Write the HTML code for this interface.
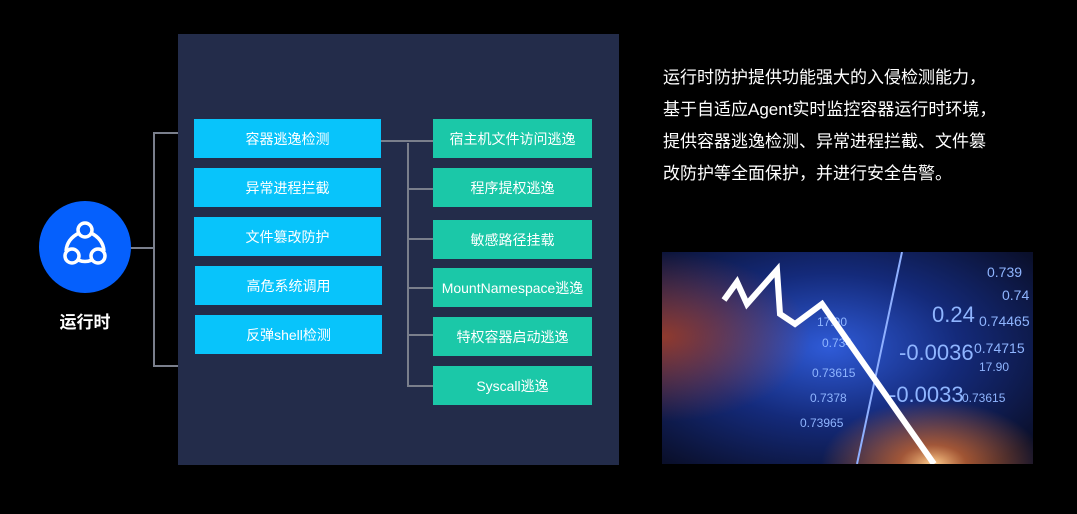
<!DOCTYPE html>
<html><head><meta charset="utf-8"><style>
body{margin:0;width:1077px;height:514px;background:#000;position:relative;overflow:hidden;font-family:"Liberation Sans","Noto Sans CJK SC",sans-serif;}
.a{position:absolute}
.panel{left:178px;top:34px;width:441px;height:431px;background:#232c4a}
.b{position:absolute;color:#fff;font-size:14px;display:flex;align-items:center;justify-content:center;white-space:nowrap}
.c{background:#08c4fb;width:187px;height:39px}
.g{background:#1bc8a8;width:159px;height:39px}
.l{position:absolute;background:#7a7f8c}
.txt{left:663px;top:62px;color:#fff;font-size:17px;line-height:32px}
</style></head><body>
<div class="a panel"></div>
<div class="b c" style="left:194px;top:119px">容器逃逸检测</div>
<div class="b c" style="left:194px;top:168px">异常进程拦截</div>
<div class="b c" style="left:194px;top:217px">文件篡改防护</div>
<div class="b c" style="left:195px;top:266px">高危系统调用</div>
<div class="b c" style="left:195px;top:315px">反弹shell检测</div>
<div class="b g" style="left:433px;top:119px">宿主机文件访问逃逸</div>
<div class="b g" style="left:433px;top:168px">程序提权逃逸</div>
<div class="b g" style="left:433px;top:220px">敏感路径挂载</div>
<div class="b g" style="left:433px;top:268px">MountNamespace逃逸</div>
<div class="b g" style="left:433px;top:317px">特权容器启动逃逸</div>
<div class="b g" style="left:433px;top:366px">Syscall逃逸</div>
<div class="l" style="left:381px;top:140px;width:52px;height:2px"></div>
<div class="l" style="left:407px;top:143px;width:2px;height:244px"></div>
<div class="l" style="left:407px;top:188px;width:26px;height:2px"></div>
<div class="l" style="left:407px;top:238px;width:26px;height:2px"></div>
<div class="l" style="left:407px;top:287px;width:26px;height:2px"></div>
<div class="l" style="left:407px;top:334px;width:26px;height:2px"></div>
<div class="l" style="left:407px;top:385px;width:26px;height:2px"></div>
<div class="l" style="left:153px;top:132px;width:2px;height:235px"></div>
<div class="l" style="left:153px;top:132px;width:25px;height:2px"></div>
<div class="l" style="left:153px;top:365px;width:25px;height:2px"></div>
<div class="l" style="left:130px;top:247px;width:24px;height:2px"></div>
<div class="a" style="left:39px;top:201px;width:92px;height:92px;border-radius:50%;background:#0560fd"></div>
<svg class="a" style="left:39px;top:201px" width="92" height="92" viewBox="0 0 92 92"><g fill="none" stroke="#fff" stroke-width="3.5"><circle cx="46" cy="29" r="7"/><circle cx="33" cy="55" r="7"/><circle cx="59" cy="55" r="7"/><path d="M40 32 Q28 38 27 50 M52 32 Q64 38 65 50 M39 59 Q46 62 53 59"/></g></svg>
<div class="a" style="left:40px;top:308px;width:90px;text-align:center;color:#fff;font-weight:bold;font-size:17px">运行时</div>
<div class="a txt">运行时防护提供功能强大的入侵检测能力，<br>基于自适应Agent实时监控容器运行时环境，<br>提供容器逃逸检测、异常进程拦截、文件篡<br>改防护等全面保护，并进行安全告警。</div>
<svg class="a" style="left:662px;top:252px" width="371" height="212" viewBox="0 0 371 212">
<defs><radialGradient id="r1" cx="0.45" cy="0.45" r="0.7"><stop offset="0" stop-color="#2f5bd8"/><stop offset="0.5" stop-color="#142a7a"/><stop offset="1" stop-color="#0a0f2a"/></radialGradient>
<radialGradient id="r2" cx="0" cy="0.4" r="0.4"><stop offset="0" stop-color="#b04020" stop-opacity="0.8"/><stop offset="1" stop-color="#b04020" stop-opacity="0"/></radialGradient>
<radialGradient id="r3" cx="0.73" cy="1" r="0.3"><stop offset="0" stop-color="#ffd090"/><stop offset="0.3" stop-color="#e07030" stop-opacity="0.7"/><stop offset="1" stop-color="#e07030" stop-opacity="0"/></radialGradient></defs>
<rect width="371" height="212" fill="url(#r1)"/><rect width="371" height="212" fill="url(#r2)"/><rect width="371" height="212" fill="url(#r3)"/>
<line x1="240" y1="0" x2="195" y2="212" stroke="#8fb0ff" stroke-width="2"/>
<g fill="#8fb5ff" font-family="Liberation Sans" font-size="12"><text x="325" y="25" font-size="14">0.739</text><text x="340" y="48" font-size="14">0.74</text><text x="270" y="70" font-size="22">0.24</text><text x="317" y="74" font-size="14">0.74465</text><text x="237" y="108" font-size="22">-0.0036</text><text x="312" y="101" font-size="14">0.74715</text><text x="317" y="119">17.90</text><text x="227" y="150" font-size="22">-0.0033</text><text x="300" y="150">0.73615</text><text x="155" y="74">17.90</text><text x="150" y="125">0.73615</text><text x="148" y="150">0.7378</text><text x="138" y="175">0.73965</text><text x="160" y="95">0.734</text></g>
<polyline points="62,48 75,30 85,52 115,18 118,62 133,72 160,52 272,212" fill="none" stroke="#fff" stroke-width="6"/>
</svg>
</body></html>
